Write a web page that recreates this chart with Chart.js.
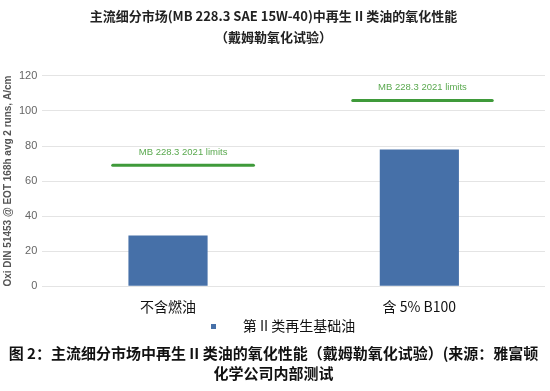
<!DOCTYPE html>
<html lang="zh">
<head>
    <meta charset="UTF-8">
    <title>再生 II 类油的氧化性能</title>
    <script src="https://cdn.jsdelivr.net/npm/chart.js"></script>
    <style>
        body {
            margin: 0;
            background-color: #ffffff;
        }
        #box {
            width: 550px;
            height: 391px;
        }
    </style>
</head>
<body>
    <div id="box"><canvas id="oxChart"></canvas></div>

    <script>
        // data
        const categories = ['不含燃油', '含 5% B100'];
        const oxValues = [29, 78];
        const limitValues = [69, 106];
        const yTicks = [0, 20, 40, 60, 80, 100, 120];
        const seriesName = '第 II 类再生基础油';
        const limitLabel = 'MB 228.3 2021 limits';

        const cjk = '"Noto Sans CJK SC", "Noto Sans", sans-serif';
        const barColor = '#4670a8';

        // small square used as the legend marker
        let marker = document.createElement('canvas');
        marker.width = 5;
        marker.height = 5;
        let mctx = marker.getContext('2d');
        mctx.fillStyle = barColor;
        mctx.fillRect(0, 0, 5, 5);

        // green limit bars above each category
        const limitPlugin = {
            id: 'limits',
            afterDatasetsDraw(chart, args, opts) {
                let ctx = chart.ctx;
                let x = chart.scales.x, y = chart.scales.y;
                let step = x.getPixelForValue(1) - x.getPixelForValue(0);
                ctx.save();
                limitValues.forEach((v, i) => {
                    let cx = x.getPixelForValue(i);
                    let left = cx + opts.spans[i][0] * step;
                    let right = cx + opts.spans[i][1] * step;
                    let py = y.getPixelForValue(v);
                    ctx.strokeStyle = '#3f9a3a';
                    ctx.lineWidth = 3;
                    ctx.lineCap = 'round';
                    ctx.beginPath();
                    ctx.moveTo(left, py);
                    ctx.lineTo(right, py);
                    ctx.stroke();
                    ctx.fillStyle = '#5aa94f';
                    ctx.font = '9.5px "Liberation Sans", Arial, sans-serif';
                    ctx.textAlign = 'center';
                    ctx.textBaseline = 'middle';
                    ctx.fillText(limitLabel, (left + right) / 2, py - 13);
                });
                ctx.restore();
            }
        };

        let ctx = document.getElementById('oxChart').getContext('2d');
        let oxChart = new Chart(ctx, {
            type: 'bar',
            data: {
                labels: categories,
                datasets: [{
                    label: seriesName,
                    data: oxValues,
                    backgroundColor: barColor,
                    pointStyle: marker,
                    barPercentage: 0.63,
                    categoryPercentage: 0.5
                }]
            },
            options: {
                responsive: true,
                maintainAspectRatio: false,
                animation: false,
                layout: { padding: { left: 2, right: 5, top: 5, bottom: 8 } },
                plugins: {
                    title: {
                        display: true,
                        text: ['主流细分市场(MB 228.3 SAE 15W-40)中再生 II 类油的氧化性能', '（戴姆勒氧化试验）'],
                        color: '#222',
                        font: { family: cjk, size: 13, weight: 'bold', lineHeight: 1.65 },
                        padding: { top: 0, bottom: 28 }
                    },
                    subtitle: {
                        display: true,
                        position: 'bottom',
                        text: ['图 2：主流细分市场中再生 II 类油的氧化性能（戴姆勒氧化试验）(来源：雅富顿', '化学公司内部测试'],
                        color: '#111',
                        font: { family: cjk, size: 15, weight: 'bold', lineHeight: 1.33 },
                        padding: { top: 0, bottom: 0 }
                    },
                    legend: {
                        position: 'bottom',
                        labels: {
                            usePointStyle: true,
                            pointStyleWidth: 44,
                            boxHeight: 5,
                            padding: 0,
                            color: '#111',
                            font: { family: cjk, size: 14 }
                        }
                    },
                    tooltip: { enabled: false },
                    limits: {
                        spans: [[-0.22, 0.34], [-0.265, 0.29]]
                    }
                },
                scales: {
                    x: {
                        grid: { display: false },
                        border: { display: false },
                        ticks: {
                            color: '#111',
                            padding: 4,
                            font: { family: cjk, size: 14 }
                        }
                    },
                    y: {
                        min: 0,
                        max: 120,
                        afterBuildTicks: axis => { axis.ticks = yTicks.map(v => ({ value: v })); },
                        grid: { color: '#e4e4e4', drawTicks: false },
                        border: { display: false },
                        ticks: {
                            color: '#666',
                            padding: 5,
                            font: { family: '"Liberation Sans", Arial, sans-serif', size: 11 }
                        },
                        title: {
                            display: true,
                            text: 'Oxi DIN 51453 @ EOT 168h avg 2 runs, A/cm',
                            color: '#555',
                            padding: 0,
                            font: { family: '"Liberation Sans", Arial, sans-serif', size: 10, weight: 'bold' }
                        }
                    }
                }
            },
            plugins: [limitPlugin]
        });
    </script>
</body>
</html>
